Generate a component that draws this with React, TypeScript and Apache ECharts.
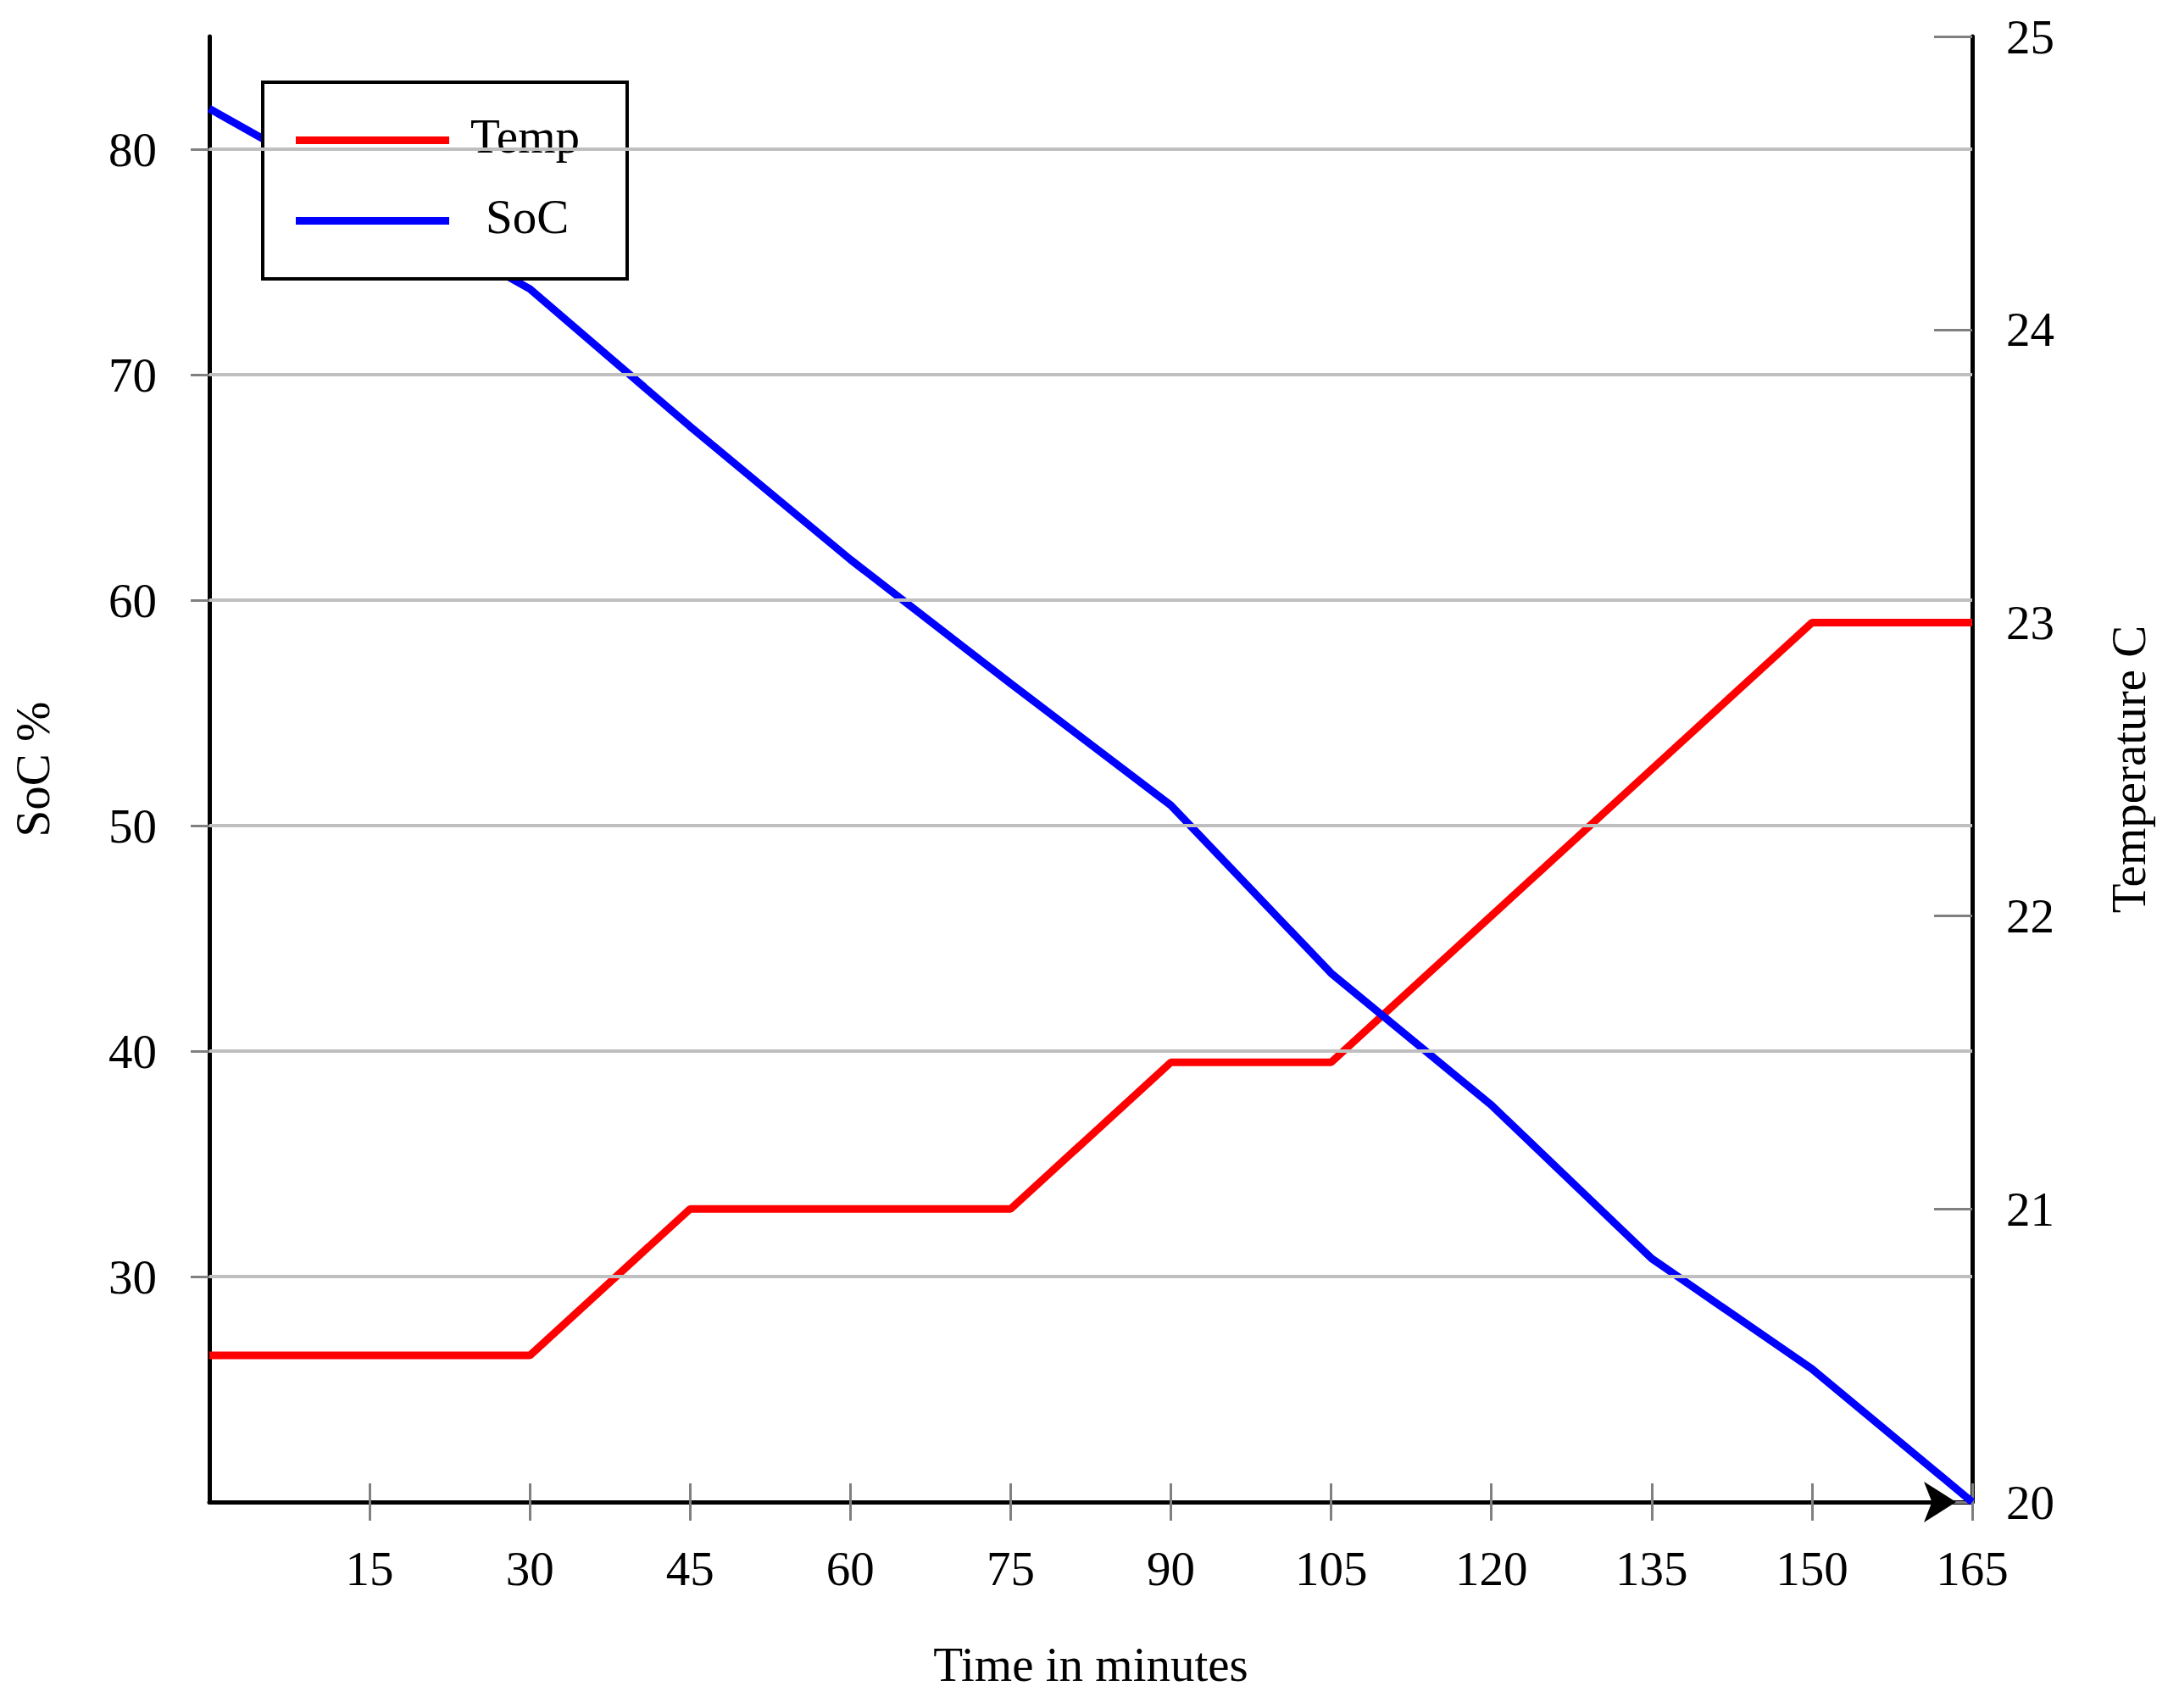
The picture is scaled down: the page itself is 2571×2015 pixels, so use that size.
import React, { useEffect, useRef } from "react";
import * as echarts from "echarts";

const times = [0, 15, 30, 45, 60, 75, 90, 105, 120, 135, 150, 165];
const socValues = [81.8, 77.8, 73.8, 67.7, 61.8, 56.3, 50.9, 43.45, 37.6, 30.8, 25.9, 20.0];
const tempValues = [20.5, 20.5, 20.5, 21, 21, 21, 21.5, 21.5, 22, 22.5, 23, 23];
const xTicks = [15, 30, 45, 60, 75, 90, 105, 120, 135, 150, 165];
const socTicks = [30, 40, 50, 60, 70, 80];
const tempTicks = [20, 21, 22, 23, 24, 25];

const FONT = "'Liberation Serif', 'Times New Roman', serif";
const FS = 57;

export default function App() {
  const ref = useRef<HTMLDivElement>(null);
  useEffect(() => {
    if (!ref.current) return;
    const chart = echarts.init(ref.current, undefined, { renderer: "svg" });
    const txt = { fontSize: FS, fontFamily: FONT, color: "#000" };
    const tickStyle = { color: "#808080", width: 3 };
    const axisLineStyle = { color: "#000", width: 5 };
    const option: any = {
      animation: false,
      backgroundColor: "#fff",
      grid: { left: 247, right: 244, top: 43, bottom: 243, containLabel: false, outerBoundsMode: "none" },
      legend: {
        show: true,
        data: ["Temp", "SoC"],
        orient: "vertical",
        left: 310,
        top: 97,
        padding: [35, 56, 35, 39],
        itemGap: 28,
        itemWidth: 181,
        itemHeight: 9,
        itemTextGap: 26,
        icon: "rect",
        borderColor: "#000",
        borderWidth: 4,
        backgroundColor: "#fff",
        selectedMode: false,
        formatter: (name: string) => (name === "SoC" ? `{s|${name}}` : `{t|${name}}`),
        textStyle: {
          ...txt,
          rich: {
            t: { fontSize: FS, fontFamily: FONT, color: "#000", lineHeight: FS, padding: [0, 0, 10, 20] },
            s: { fontSize: FS, fontFamily: FONT, color: "#000", lineHeight: FS, padding: [0, 0, 10, 38] },
          },
        },
      },
      xAxis: [
        {
          type: "value",
          position: "bottom",
          min: 0,
          max: 165,
          interval: 15,
          z: 1,
          axisLine: {
            show: true,
            lineStyle: axisLineStyle,
            symbol: ["none", "arrow"],
            symbolSize: [36, 38],
            symbolOffset: [0, -19],
          },
          axisTick: { show: true, inside: false, length: 22, customValues: xTicks, lineStyle: tickStyle },
          axisLabel: { ...txt, customValues: xTicks, margin: 50, lineHeight: FS },
          splitLine: { show: false },
          name: "Time in minutes",
          nameLocation: "middle",
          nameGap: 163,
          nameTextStyle: { ...txt, lineHeight: FS },
        },
        {
          type: "value",
          position: "bottom",
          min: 0,
          max: 165,
          interval: 15,
          z: 1,
          axisLine: { show: false },
          axisTick: { show: true, inside: true, length: 22, customValues: xTicks, lineStyle: tickStyle },
          axisLabel: { show: false },
          splitLine: { show: false },
        },
      ],
      yAxis: [
        {
          type: "value",
          position: "left",
          min: 20,
          max: 85,
          interval: 10,
          z: 1,
          axisLine: { show: true, lineStyle: axisLineStyle },
          axisTick: { show: true, inside: false, length: 22, customValues: socTicks, lineStyle: tickStyle },
          axisLabel: { ...txt, customValues: socTicks, margin: 62 },
          splitLine: { show: false },
          name: "SoC %",
          nameLocation: "middle",
          nameGap: 180,
          nameRotate: 90,
          nameTextStyle: { ...txt, lineHeight: FS },
        },
        {
          type: "value",
          position: "left",
          min: 20,
          max: 85,
          interval: 10,
          z: 1,
          axisLine: { show: false },
          axisTick: { show: true, inside: true, length: 22, customValues: socTicks, lineStyle: tickStyle },
          axisLabel: { show: false },
          splitLine: { show: false },
        },
        {
          type: "value",
          position: "right",
          min: 20,
          max: 25,
          interval: 1,
          z: 1,
          axisLine: { show: true, lineStyle: axisLineStyle },
          axisTick: { show: true, inside: true, length: 45, customValues: tempTicks, lineStyle: tickStyle },
          axisLabel: { ...txt, customValues: tempTicks, margin: 40 },
          splitLine: { show: false },
          name: "Temperature C",
          nameLocation: "middle",
          nameGap: 156,
          nameRotate: 90,
          nameTextStyle: { ...txt, lineHeight: FS },
        },
      ],
      series: [
        {
          name: "grid",
          type: "line",
          xAxisIndex: 0,
          yAxisIndex: 0,
          z: 0,
          silent: true,
          symbol: "none",
          lineStyle: { opacity: 0 },
          data: times.map((t, i) => [t, socValues[i]]),
          markLine: {
            silent: true,
            symbol: ["none", "none"],
            label: { show: false },
            emphasis: { disabled: true },
            lineStyle: { color: "#bfbfbf", width: 4, type: "solid" },
            data: socTicks.map((v) => ({ yAxis: v })),
          },
        },
        {
          name: "Temp",
          type: "line",
          xAxisIndex: 0,
          yAxisIndex: 2,
          z: 2,
          symbol: "none",
          color: "#ff0000",
          lineStyle: { color: "#ff0000", width: 9 },
          data: times.map((t, i) => [t, tempValues[i]]),
        },
        {
          name: "SoC",
          type: "line",
          xAxisIndex: 0,
          yAxisIndex: 0,
          z: 2,
          symbol: "none",
          color: "#0000ff",
          lineStyle: { color: "#0000ff", width: 9 },
          data: times.map((t, i) => [t, socValues[i]]),
        },
      ],
    };
    chart.setOption(option);
    return () => chart.dispose();
  }, []);
  return (
    <div
      ref={ref}
      style={{ position: "fixed", left: 0, top: 0, width: 2571, height: 2015, background: "#fff" }}
    />
  );
}
